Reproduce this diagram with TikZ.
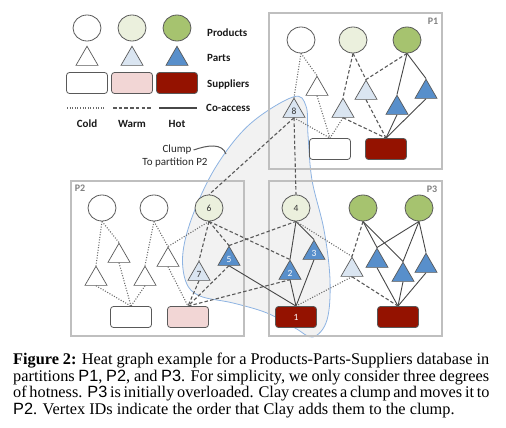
\documentclass[tikz,border=0pt]{standalone}
\usepackage{fontspec}
\setmainfont{Liberation Serif}
\setsansfont{Liberation Sans}
\newfontfamily\calfont{Carlito}
\usetikzlibrary{shapes.geometric}
\pgfdeclarelayer{clumplayer}
\pgfdeclarelayer{edgelayer}
\pgfsetlayers{clumplayer,edgelayer,main}

\definecolor{hotg}{HTML}{A6C36F}
\definecolor{warmg}{HTML}{EBF0DD}
\definecolor{hotb}{HTML}{588FCB}
\definecolor{warmb}{HTML}{DAE5F1}
\definecolor{hotr}{HTML}{941200}
\definecolor{warmr}{HTML}{F2D6D5}
\definecolor{outl}{HTML}{595959}
\definecolor{boxc}{HTML}{BFBFBF}
\definecolor{clumpf}{HTML}{F2F2F2}
\definecolor{clumpl}{HTML}{8DB3E2}
\definecolor{edgec}{HTML}{595959}
\definecolor{plab}{HTML}{808080}

\tikzset{
  prod/.style={ellipse, draw=outl, line width=0.8pt, minimum width=28pt, minimum height=26pt, inner sep=0pt, font=\calfont\fontsize{9.5}{9.5}\selectfont, text=black!80},
  cprod/.style={prod, fill=white},
  wprod/.style={prod, fill=warmg},
  hprod/.style={prod, fill=hotg},
  part/.style={regular polygon, regular polygon sides=3, draw=outl, line width=0.7pt, minimum size=25.5pt, inner sep=0pt, font=\calfont\fontsize{9.5}{9.5}\selectfont, text=black!80},
  cpart/.style={part, fill=white},
  wpart/.style={part, fill=warmb},
  hpart/.style={part, fill=hotb, text=white},
  supp/.style={rectangle, rounded corners=3pt, draw=outl, line width=0.8pt, minimum width=41pt, minimum height=21pt, inner sep=0pt, font=\calfont\fontsize{9.5}{9.5}\selectfont},
  csupp/.style={supp, fill=white},
  wsupp/.style={supp, fill=warmr},
  hsupp/.style={supp, fill=hotr, text=white},
  coldline/.style={draw=edgec!90, line width=1.1pt, dash pattern=on 1pt off 1.6pt},
  warmline/.style={draw=edgec, line width=1.1pt, dash pattern=on 3.5pt off 2.2pt},
  hotline/.style={draw=edgec!80!black, line width=0.9pt},
  pbox/.style={rectangle, draw=boxc, line width=1.3pt, inner sep=0pt},
  plabel/.style={font=\calfont\bfseries\fontsize{10}{10}\selectfont, text=plab, inner sep=0pt},
  leglabel/.style={font=\calfont\bfseries\fontsize{11}{11}\selectfont, inner sep=0pt, text=black!90},
  note/.style={font=\calfont\fontsize{11}{11}\selectfont, inner sep=0pt, text=black!85},
  captext/.style={font=\fontsize{16.3}{17}\selectfont, inner sep=0pt, anchor=base west},
}

\begin{document}
\begin{tikzpicture}[x=1pt,y=-1pt]
\useasboundingbox (0,0) rectangle (506,428);

% ---------- legend ----------
\node[cprod] (lc1) at (87,28) {};
\node[wprod] (lc2) at (132,28) {};
\node[hprod] (lc3) at (177,28) {};
\node[cpart] (lt1) at (87,59) {};
\node[wpart] (lt2) at (132,59) {};
\node[hpart] (lt3) at (177,59) {};
\node[csupp] (ls1) at (87,83) {};
\node[wsupp] (ls2) at (132,83) {};
\node[hsupp] (ls3) at (177,83) {};
\coordinate (ld1a) at (67,108); \coordinate (ld1b) at (105,108);
\coordinate (ld2a) at (113,108); \coordinate (ld2b) at (152,108);
\coordinate (ld3a) at (159,108); \coordinate (ld3b) at (197,108);
\draw[coldline] (ld1a) -- (ld1b);
\draw[warmline] (ld2a) -- (ld2b);
\draw[hotline, line width=1.2pt] (ld3a) -- (ld3b);
\node[leglabel, anchor=west] (lprod) at (207,33) {Products};
\node[leglabel, anchor=west] (lpart) at (207,58) {Parts};
\node[leglabel, anchor=west] (lsupp) at (207,85) {Suppliers};
\node[leglabel, anchor=west] (lco) at (206,108) {Co-access};
\node[leglabel] (lcold) at (87,124) {Cold};
\node[leglabel] (lwarm) at (132,124) {Warm};
\node[leglabel] (lhot) at (177,124) {Hot};

% ---------- partition boxes ----------
\begin{pgfonlayer}{edgelayer}
\node[pbox, minimum width=173pt, minimum height=156pt] (box1) at (355.5,91) {};
\node[pbox, minimum width=173pt, minimum height=155pt] (box2) at (157.5,258.5) {};
\node[pbox, minimum width=173pt, minimum height=155pt] (box3) at (355.5,258.5) {};
\end{pgfonlayer}
\node[plabel] (lp1) at (433,21) {P1};
\node[plabel] (lp2) at (80,188) {P2};
\node[plabel] (lp3) at (432,189) {P3};

% ---------- P1 ----------
\node[cprod] (p1c) at (301,40) {};
\node[wprod] (p1w) at (353,40) {};
\node[hprod] (p1h) at (407,40) {};
\node[cpart] (p1ta) at (317,89) {};
\node[wpart] (n8) at (294,111) {8};
\node[wpart] (p1tw1) at (343,111) {};
\node[wpart] (p1tw2) at (366,93) {};
\node[hpart] (p1th1) at (397,108) {};
\node[hpart] (p1th2) at (426,92) {};
\node[csupp] (p1sc) at (330,149) {};
\node[hsupp] (p1sh) at (386,149) {};

% ---------- P2 ----------
\node[cprod] (p2c1) at (102,208) {};
\node[cprod] (p2c2) at (154,208) {};
\node[wprod] (n6) at (209,208) {6};
\node[cpart] (p2ta) at (119,256) {};
\node[cpart] (p2tb) at (96,279) {};
\node[cpart] (p2tc) at (145,279) {};
\node[cpart] (p2td) at (168,260) {};
\node[wpart] (n7) at (199,274) {7};
\node[hpart] (n5) at (229,259) {5};
\node[csupp] (p2sc) at (131,317) {};
\node[wsupp] (p2sw) at (188,317) {};

% ---------- P3 ----------
\node[wprod] (n4) at (296,208) {4};
\node[hprod] (p3h1) at (363,208) {};
\node[hprod] (p3h2) at (419,208) {};
\node[hpart] (n3) at (314,253) {3};
\node[hpart] (n2) at (290,273) {2};
\node[wpart] (p3tw) at (352,270) {};
\node[hpart] (p3ta) at (377,261) {};
\node[hpart] (p3tb) at (403,275) {};
\node[hpart] (p3tc) at (426,266) {};
\node[hsupp] (n1) at (296,317) {1};
\node[hsupp] (p3sh) at (398,317) {};

% ---------- clump ----------
\begin{pgfonlayer}{clumplayer}
\draw[fill=clumpf, draw=clumpl, line width=0.8pt] plot[smooth cycle, tension=0.6] coordinates {
 (293,97) (306,106) (308,135) (312,180) (324,230) (330,280) (327,320) (313,337)
 (295,328) (267,313) (233,303) (200,296) (186,282) (183,252) (194,212) (217,165) (250,124)};
\end{pgfonlayer}
\node[note] (clab1) at (177,150) {Clump};
\node[note] (clab2) at (175,163) {To partition P2};
\coordinate (ctouch) at (226,154);
\draw[outl, line width=1pt] (clab1.east) ++(2,0) .. controls (208,145) and (222,143) .. (ctouch);

% ---------- edges ----------
\begin{pgfonlayer}{edgelayer}
% P1 cold
\draw[coldline] (p1c.south) -- (p1ta.north);
\draw[coldline] (p1c.south) -- (n8.north);
\draw[coldline] (p1ta.south) -- (p1sc.north);
\draw[coldline] (n8.south) -- (p1sc.north);
\draw[coldline] (p1tw1.south) -- (p1sc.north);
% P1 warm
\draw[warmline] (p1w.south) -- (p1tw1.north);
\draw[warmline] (p1w.south) -- (p1tw2.north);
\draw[warmline] (p1h.south) -- (p1tw2.north);
\draw[warmline] (p1tw1.south) -- (p1sh.north);
\draw[warmline] (p1tw2.south) -- (p1sh.north);
% P1 hot
\draw[hotline] (p1h.south) -- (p1th1.north);
\draw[hotline] (p1h.south) -- (p1th2.north);
\draw[hotline] (p1th1.south) -- (p1sh.north);
\draw[hotline] (p1th2.south) -- (p1sh.north);
% cross
\draw[warmline] (n8.south) -- (n6.north);
\draw[warmline] (n8.south) -- (n4.north);
% P2 cold
\draw[coldline] (p2c1.south) -- (p2ta.north);
\draw[coldline] (p2c1.south) -- (p2tb.north);
\draw[coldline] (p2c2.south) -- (p2tc.north);
\draw[coldline] (p2c2.south) -- (p2td.north);
\draw[coldline] (p2ta.south) -- (p2sc.north);
\draw[coldline] (p2tb.south) -- (p2sc.north);
\draw[coldline] (p2tc.south) -- (p2sc.north);
\draw[coldline] (p2td.south) -- (p2sw.north);
\draw[coldline] (n6.south) -- (p2td.north);
% P2 warm
\draw[warmline] (n6.south) -- (n7.north);
\draw[warmline] (n6.south) -- (n5.north);
\draw[warmline] (n6.south) -- (n2.north);
\draw[warmline] (n7.south) -- (p2sw.north);
\draw[warmline] (n5.south) -- (p2sw.north);
\draw[warmline] (p2sw.north) -- (n2.south);
\draw[warmline] (n5.north) -- (n4.south);
% P2 hot
\draw[hotline] (n5.south) -- (n1.north);
% P3 hot
\draw[hotline] (n4.south) -- (n2.north);
\draw[hotline] (n4.south) -- (n3.north);
\draw[hotline] (n2.south) -- (n1.north);
\draw[hotline] (n3.south) -- (n1.north);
\draw[hotline] (p3h1.south) -- (p3ta.north);
\draw[hotline] (p3h1.south) -- (p3tb.north);
\draw[hotline] (p3h2.south) -- (p3ta.north);
\draw[hotline] (p3h2.south) -- (p3tb.north);
\draw[hotline] (p3h2.south) -- (p3tc.north);
\draw[hotline] (p3ta.south) -- (p3sh.north);
\draw[hotline] (p3tb.south) -- (p3sh.north);
\draw[hotline] (p3tc.south) -- (p3sh.north);
% P3 warm
\draw[warmline] (p3h1.south) -- (p3tw.north);
\draw[warmline] (p3tw.south) -- (p3sh.north);
% P3 cold
\draw[coldline] (n4.south) -- (p3tw.north);
\draw[coldline] (n1.north) -- (p3tw.south);
\end{pgfonlayer}

% ---------- caption ----------
\node[captext] (cap1) at (13,364) {\makebox[476pt][s]{\textbf{Figure 2:} Heat graph example for a Products-Parts-Suppliers database in}};
\node[captext] (cap2) at (13,381) {\makebox[476pt][s]{partitions \textsf{P1}, \textsf{P2}, and \textsf{P3}. For simplicity, we only consider three degrees}};
\node[captext] (cap3) at (13,397) {\makebox[476pt][s]{of hotness. \textsf{P3} is initially overloaded. Clay creates a clump and moves it to}};
\node[captext] (cap4) at (13,414) {\textsf{P2}. Vertex IDs indicate the order that Clay adds them to the clump.};
\end{tikzpicture}
\end{document}
